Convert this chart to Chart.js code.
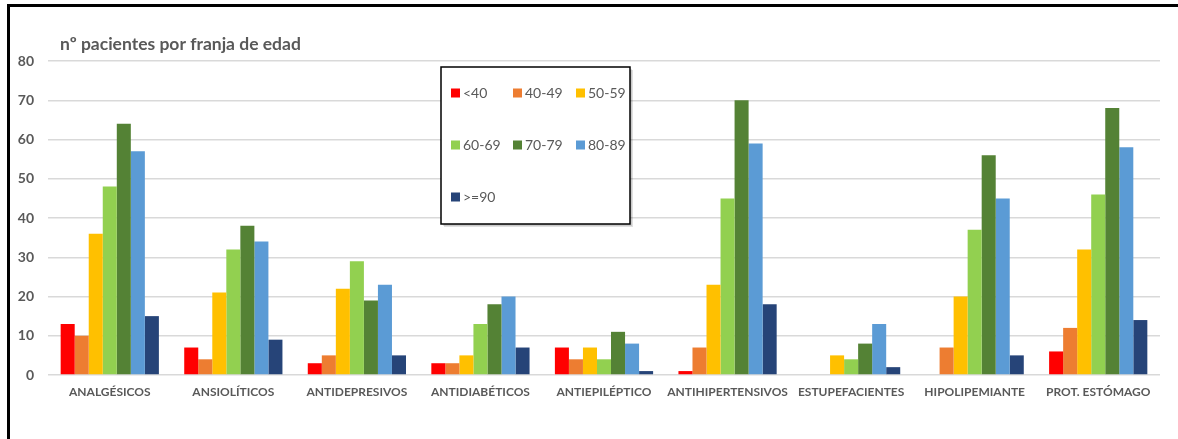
<!DOCTYPE html>
<html>
<head>
<meta charset="utf-8">
<script src="https://cdn.jsdelivr.net/npm/chart.js@4.4.1/dist/chart.umd.min.js"></script>
<style>
  html, body { margin: 0; padding: 0; background: #ffffff; }
  #wrap { position: relative; width: 1178px; height: 439px; }
  canvas { display: block; }
</style>
</head>
<body>
<div id="wrap"><canvas id="c" width="1178" height="439"></canvas></div>
<script>
// Medication groups
const categories = ['ANALGÉSICOS', 'ANSIOLÍTICOS', 'ANTIDEPRESIVOS', 'ANTIDIABÉTICOS', 'ANTIEPILÉPTICO',
  'ANTIHIPERTENSIVOS', 'ESTUPEFACIENTES', 'HIPOLIPEMIANTE', 'PROT. ESTÓMAGO'];

// Age bands
const ageBands = ['<40', '40-49', '50-59', '60-69', '70-79', '80-89', '>=90'];

// Patients per age band, one array per band, in category order
const under40   = [13, 7, 3, 3, 7, 1, 0, 0, 6];
const age40to49 = [10, 4, 5, 3, 4, 7, 0, 7, 12];
const age50to59 = [36, 21, 22, 5, 7, 23, 5, 20, 32];
const age60to69 = [48, 32, 29, 13, 4, 45, 4, 37, 46];
const age70to79 = [64, 38, 19, 18, 11, 70, 8, 56, 68];
const age80to89 = [57, 34, 23, 20, 8, 59, 13, 45, 58];
const age90plus = [15, 9, 5, 7, 1, 18, 2, 5, 14];

const yTicks = [0, 10, 20, 30, 40, 50, 60, 70, 80];

const bandColors = ['#FF0000', '#ED7D31', '#FFC000', '#92D050', '#548235', '#5B9BD5', '#264478'];
const series = [under40, age40to49, age50to59, age60to69, age70to79, age80to89, age90plus];

const FONT = 'Lato, "Open Sans", sans-serif';
const GREY = '#595959';

// Frame lines, title and the boxed legend
const decorations = {
  id: 'decorations',
  beforeDraw(chart) {
    const ctx = chart.ctx;
    ctx.save();
    ctx.fillStyle = '#000';
    ctx.fillRect(7, 4, 1171, 3);
    ctx.fillRect(7, 4, 3, 435);
    ctx.fillStyle = GREY;
    ctx.font = 'bold 17.5px ' + FONT;
    ctx.textBaseline = 'middle';
    ctx.textAlign = 'left';
    ctx.fillText('nº pacientes por franja de edad', 60, 44);
    ctx.restore();
  },
  afterDatasetsDraw(chart) {
    const ctx = chart.ctx;
    const box = { x: 441, y: 67, w: 189, h: 157 };
    ctx.save();
    // soft drop shadow
    ctx.fillStyle = 'rgba(0,0,0,0.12)';
    ctx.fillRect(box.x + 3, box.y + 3, box.w, box.h);
    ctx.fillStyle = 'rgba(0,0,0,0.10)';
    ctx.fillRect(box.x + 2, box.y + 2, box.w, box.h);
    ctx.fillStyle = '#fff';
    ctx.fillRect(box.x, box.y, box.w, box.h);
    ctx.strokeStyle = '#000';
    ctx.lineWidth = 1.5;
    ctx.strokeRect(box.x, box.y, box.w, box.h);
    const colX = [451, 513, 576];
    const rowY = [93, 145, 197];
    ctx.font = '14px ' + FONT;
    ctx.textBaseline = 'middle';
    ctx.textAlign = 'left';
    chart.data.datasets.forEach((ds, i) => {
      const x = colX[i % 3];
      const y = rowY[Math.floor(i / 3)];
      ctx.fillStyle = ds.backgroundColor;
      ctx.fillRect(x, y - 4.5, 9, 9);
      ctx.fillStyle = GREY;
      ctx.fillText(ds.label, x + 12, y + 0.5);
    });
    ctx.restore();
  }
};

new Chart(document.getElementById('c'), {
  type: 'bar',
  data: {
    labels: categories,
    datasets: ageBands.map((band, i) => ({
      label: band,
      data: series[i],
      backgroundColor: bandColors[i],
      borderWidth: 0,
      categoryPercentage: 0.795,
      barPercentage: 1.0
    }))
  },
  options: {
    responsive: false,
    animation: false,
    layout: { padding: { top: 61, right: 18, left: 0, bottom: 0 } },
    plugins: {
      legend: { display: false },
      title: { display: false },
      tooltip: { enabled: false }
    },
    scales: {
      x: {
        grid: { display: false, drawTicks: false },
        border: { display: false },
        ticks: {
          color: GREY,
          font: { family: FONT, size: 12, weight: 'bold' },
          padding: 10,
          maxRotation: 0,
          autoSkip: false
        },
        afterFit(scale) { scale.height = 64; }
      },
      y: {
        min: 0,
        max: 80,
        afterBuildTicks(scale) { scale.ticks = yTicks.map(v => ({ value: v })); },
        grid: { color: '#D9D9D9', lineWidth: 1.5, drawTicks: false },
        border: { display: false },
        ticks: {
          color: GREY,
          font: { family: FONT, size: 14, weight: 'bold' },
          padding: 14
        },
        afterFit(scale) { scale.width = 48; }
      }
    }
  },
  plugins: [decorations]
});
</script>
</body>
</html>
